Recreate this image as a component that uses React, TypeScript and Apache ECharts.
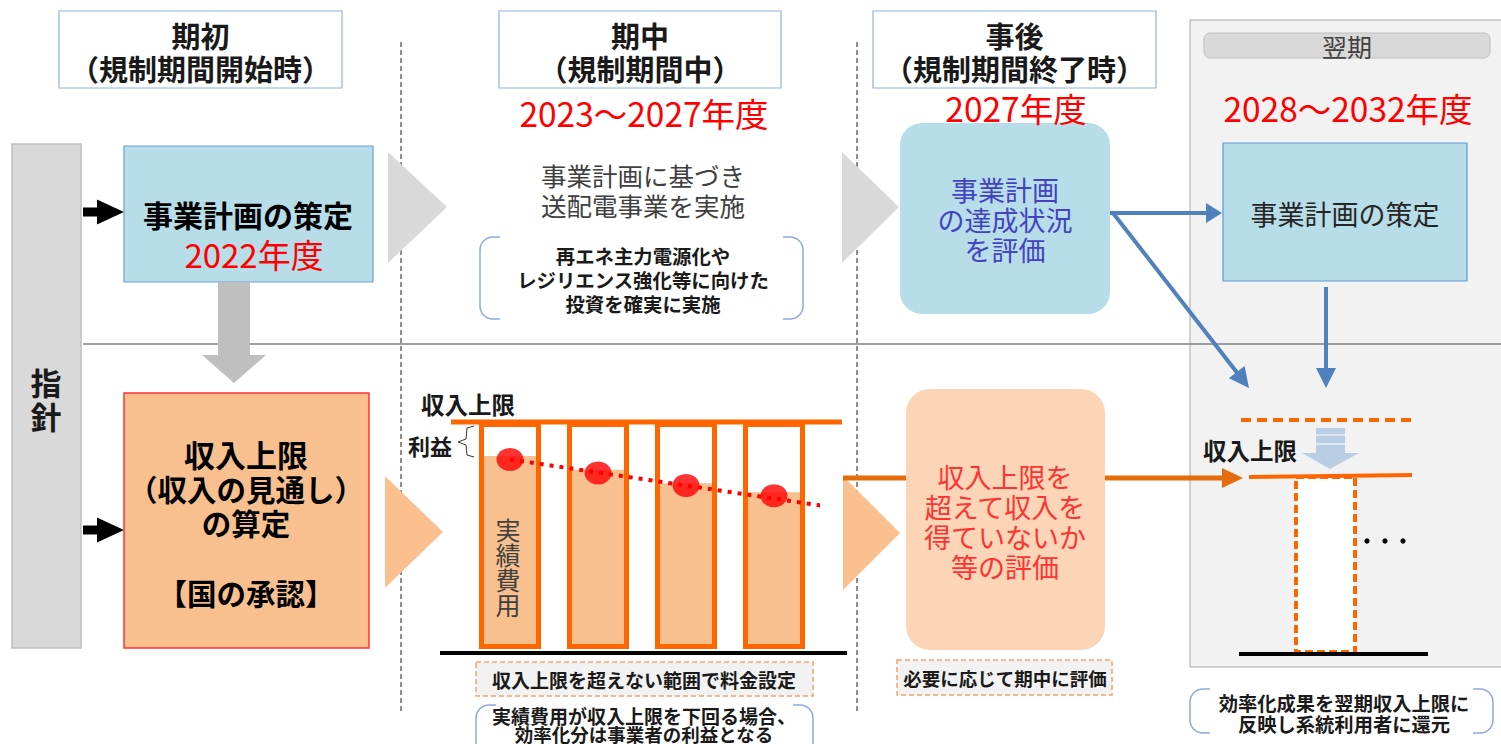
import React, { useEffect, useRef } from 'react';
import * as echarts from 'echarts';

const FONT = '"Noto Sans CJK JP", "Noto Sans", sans-serif';

// ---- chart data (middle panel: revenue cap vs. actual cost over the period) ----
const periods = ['1年目', '2年目', '3年目', '4年目'];
const revenueCap = [100, 100, 100, 100];
const actualCost = [85, 79, 73, 69];
const costDots = [83.5, 77.5, 72, 67.5];
const trendLine = [[0.5, 83.5], [4.07, 63]];

// ---- texts ----
const headerTitles = ['期初', '期中', '事後'];
const headerSubs = ['（規制期間開始時）', '（規制期間中）', '（規制期間終了時）'];
const yearLabels = ['2022年度', '2023～2027年度', '2027年度', '2028～2032年度'];
const guideChars = ['指', '針'];
const capBoxLines = ['収入上限', '（収入の見通し）', 'の算定', '【国の承認】'];
const midLines = ['事業計画に基づき', '送配電事業を実施'];
const investLines = ['再エネ主力電源化や', 'レジリエンス強化等に向けた', '投資を確実に実施'];
const costChars = ['実', '績', '費', '用'];
const evalLines = ['事業計画', 'の達成状況', 'を評価'];
const peachLines = ['収入上限を', '超えて収入を', '得ていないか', '等の評価'];
const noteLines = ['実績費用が収入上限を下回る場合、', '効率化分は事業者の利益となる'];
const returnLines = ['効率化成果を翌期収入上限に', '反映し系統利用者に還元'];

const RED = '#ff0000';
const ORANGE = '#ff6600';

function T(text: string, x: number, y: number, size: number, fill = '#1a1a1a', weight: any = 'normal', extra: any = {}) {
  return {
    type: 'text', x, y, z: 10,
    style: { text, fill, fontSize: size, fontWeight: weight, fontFamily: FONT, textAlign: 'center', textVerticalAlign: 'middle', ...extra },
  };
}
function R(x: number, y: number, w: number, h: number, style: any, r = 0, z = 0) {
  return { type: 'rect', z, shape: { x, y, width: w, height: h, r }, style };
}
function L(x1: number, y1: number, x2: number, y2: number, style: any, z = 0) {
  return { type: 'line', z, shape: { x1, y1, x2, y2 }, style };
}
function P(points: number[][], fill: string, z = 0) {
  return { type: 'polygon', z, shape: { points }, style: { fill } };
}
function arrow(x1: number, y1: number, x2: number, y2: number, color: string, lw: number, hl: number, hw: number) {
  const dx = x2 - x1, dy = y2 - y1, len = Math.hypot(dx, dy);
  const ux = dx / len, uy = dy / len, px = -uy, py = ux;
  const bx = x2 - ux * hl, by = y2 - uy * hl;
  return [
    L(x1, y1, bx + ux, by + uy, { stroke: color, lineWidth: lw }),
    P([[x2, y2], [bx + px * hw, by + py * hw], [bx - px * hw, by - py * hw]], color),
  ];
}
function blockArrow(x: number, yc: number) {
  return P([[x, yc - 4.5], [x + 14, yc - 4.5], [x + 14, yc - 12.5], [x + 41, yc], [x + 14, yc + 12.5], [x + 14, yc + 4.5], [x, yc + 4.5]], '#000');
}
function bracket(x: number, y: number, w: number, h: number) {
  return [
    R(x, y, w, h, { fill: 'none', stroke: '#8eaadb', lineWidth: 1.5 }, 13),
    R(x + 20, y - 3, w - 40, 6, { fill: '#fff' }),
    R(x + 20, y + h - 3, w - 40, 6, { fill: '#fff' }),
  ];
}

function buildGraphic() {
  const e: any[] = [];
  // next period panel
  e.push(R(1190, 20, 330, 647, { fill: '#f2f2f2', stroke: '#a6a6a6', lineWidth: 1 }));
  e.push(R(1204, 33, 286, 25, { fill: '#d9d9d9', stroke: '#bfbfbf', lineWidth: 1 }, 6));
  e.push(T('翌期', 1347, 46, 25, '#404040'));

  // header boxes
  const hb = [[59, 342], [499, 781], [873, 1156]];
  hb.forEach(([a, b], i) => {
    e.push(R(a, 11, b - a, 77, { fill: '#fff', stroke: '#8eb4e3', lineWidth: 1.2 }));
    e.push(T(headerTitles[i], (a + b) / 2, 35, 29, '#1a1a1a', 'bold'));
    e.push(T(headerSubs[i], (a + b) / 2, 68, 29, '#1a1a1a', 'bold'));
  });

  // dashed separators
  [401, 857].forEach((x) => e.push(L(x, 42, x, 712, { stroke: '#1a1a1a', lineWidth: 1, lineDash: [5, 3] })));
  // horizontal separator
  e.push(L(83, 344, 1501, 344, { stroke: '#7f7f7f', lineWidth: 1.5 }));

  // guideline bar
  e.push(R(12, 144, 69, 504, { fill: '#d9d9d9', stroke: '#bfbfbf', lineWidth: 1.5 }));
  e.push(T(guideChars[0], 46, 381, 31, '#1a1a1a', 'bold'));
  e.push(T(guideChars[1], 46, 415, 31, '#1a1a1a', 'bold'));
  e.push(blockArrow(83, 212));
  e.push(blockArrow(83, 530));

  // business plan box
  e.push(R(124, 146, 249, 136, { fill: '#b7dde8', stroke: '#6c9fd6', lineWidth: 1.2 }));
  e.push(T('事業計画の策定', 248, 214, 30, '#000', 'bold'));
  e.push(T(yearLabels[0], 254, 254, 33, RED));

  // gray down arrow
  e.push(P([[218, 282], [250, 282], [250, 355], [266, 355], [234, 383], [202, 355], [218, 355]], '#bfbfbf'));

  // revenue cap box
  e.push(R(124, 393, 245, 255, { fill: '#f9c08f', stroke: '#ff3333', lineWidth: 1.5 }));
  [453, 488, 522, 592].forEach((y, i) => e.push(T(capBoxLines[i], 246, y, i === 0 ? 31 : 29.5, '#000', 'bold')));

  // chevrons
  e.push(P([[388, 152], [447, 207], [388, 263]], '#d9d9d9'));
  e.push(P([[842, 152], [899, 207], [842, 263]], '#d9d9d9'));
  e.push(P([[385, 476], [443, 532], [385, 588]], '#fac090'));
  e.push(P([[843, 476], [900, 533], [843, 590]], '#fac090'));

  // middle texts
  e.push(T(yearLabels[1], 644, 112, 33.5, RED));
  e.push(T(midLines[0], 643, 174, 25.5, '#404040'));
  e.push(T(midLines[1], 643, 204, 25.5, '#404040'));
  e.push(...bracket(480, 237, 323, 82));
  [255, 279, 303].forEach((y, i) => e.push(T(investLines[i], 643, y, 19.4, '#1a1a1a', 'bold')));

  // bar region decorations
  e.push(T('収入上限', 468, 404, 23.5, '#1a1a1a', 'bold'));
  e.push(L(451, 422, 842, 422, { stroke: ORANGE, lineWidth: 5 }));
  e.push(L(440, 653, 847, 653, { stroke: '#000', lineWidth: 4 }));
  e.push(T('利益', 430, 445, 22, '#1a1a1a', 'bold'));
  e.push({ type: 'polyline', z: 10, shape: { points: [[474, 426], [467, 428], [466, 439], [458, 442], [466, 445], [467, 455], [474, 457]] }, style: { stroke: '#333', lineWidth: 1, fill: 'none' } });
  [529, 554, 579, 604].forEach((y, i) => e.push(T(costChars[i], 508, y, 25, '#404040')));

  e.push(R(476, 662, 337, 34, { fill: '#f2f2f2', stroke: '#f4a36c', lineWidth: 1.5, lineDash: [5, 3] }));
  e.push(T('収入上限を超えない範囲で料金設定', 644, 679, 19, '#1a1a1a', 'bold'));
  e.push(...bracket(476, 705, 337, 50));
  e.push(T(noteLines[0], 644, 715, 19, '#1a1a1a', 'bold'));
  e.push(T(noteLines[1], 644, 734, 18.5, '#1a1a1a', 'bold'));

  // orange arrow through evaluation box
  e.push(L(843, 478, 1224, 478, { stroke: '#e46c0a', lineWidth: 5 }));
  e.push(P([[1222, 468], [1243, 478], [1222, 488]], '#e46c0a'));

  // after: evaluation box
  e.push(T(yearLabels[2], 1016, 107, 33.5, RED));
  e.push(R(900, 123, 210, 191, { fill: '#b7dde8' }, 22));
  [189, 219, 249].forEach((y, i) => e.push(T(evalLines[i], 1005, y, 27, '#4343c2')));

  e.push(R(906, 389, 199, 261, { fill: '#fbd5b5' }, 24));
  [476, 506, 536, 566].forEach((y, i) => e.push(T(peachLines[i], 1005, y, 27, '#ff3333')));
  e.push(R(897, 660, 215, 35, { fill: '#f2f2f2', stroke: '#f4a36c', lineWidth: 1.5, lineDash: [5, 3] }));
  e.push(T('必要に応じて期中に評価', 1005, 678, 18.5, '#1a1a1a', 'bold'));

  // next period
  e.push(T(yearLabels[3], 1348, 107, 33.5, RED));
  e.push(R(1223, 143, 244, 138, { fill: '#b7dde8', stroke: '#5b9bd5', lineWidth: 1.2 }));
  e.push(T('事業計画の策定', 1345, 213, 27, '#262626'));

  e.push(...arrow(1110, 213, 1222, 213, '#4f81bd', 4, 16, 10));
  e.push(...arrow(1113, 213, 1249, 388, '#4f81bd', 4, 20, 10));
  e.push(...arrow(1326, 287, 1326, 388, '#4f81bd', 4, 20, 10));

  e.push(L(1241, 420, 1411, 420, { stroke: ORANGE, lineWidth: 4, lineDash: [10, 6] }));
  e.push(P([[1316, 428], [1345, 428], [1345, 453], [1359, 453], [1330, 469], [1302, 453], [1316, 453]], '#b9cde5'));
  e.push(L(1316, 435, 1345, 435, { stroke: '#fff', lineWidth: 1 }));
  e.push(L(1316, 444, 1345, 444, { stroke: '#fff', lineWidth: 1 }));
  e.push(T('収入上限', 1250, 450, 23.5, '#1a1a1a', 'bold'));
  e.push(R(1296, 477, 59, 175, { fill: '#fff', stroke: ORANGE, lineWidth: 4, lineDash: [8, 4] }));
  e.push(L(1249, 477, 1412, 475, { stroke: ORANGE, lineWidth: 4 }));
  e.push(L(1239, 654, 1428, 654, { stroke: '#000', lineWidth: 4 }));
  [1367, 1385, 1403].forEach((x) => e.push({ type: 'circle', shape: { cx: x, cy: 541, r: 2.6 }, style: { fill: '#000' } }));

  e.push(...bracket(1190, 689, 303, 44));
  e.push(T(returnLines[0], 1344, 703, 19.3, '#1a1a1a', 'bold'));
  e.push(T(returnLines[1], 1344, 724, 19.3, '#1a1a1a', 'bold'));
  return e;
}

function buildOption(): any {
  return {
    animation: false,
    backgroundColor: '#ffffff',
    grid: { left: 466, top: 422, width: 352, height: 227 },
    xAxis: [
      { type: 'category', data: periods, show: false },
      { type: 'value', min: 0, max: 4, show: false },
    ],
    yAxis: { type: 'value', min: 0, max: 100, show: false },
    series: [
      { name: '実績費用', type: 'bar', data: actualCost, barWidth: 62, z: 2, itemStyle: { color: '#f9c08f' } },
      {
        name: '収入上限', type: 'bar', data: revenueCap, barWidth: 62, barGap: '-100%', z: 3,
        itemStyle: { color: 'rgba(255,255,255,0)', borderColor: ORANGE, borderWidth: 5 },
      },
      {
        name: 'trend', type: 'line', xAxisIndex: 1, data: trendLine, symbol: 'none', z: 4,
        lineStyle: { color: RED, width: 4, type: [4, 6] },
      },
      {
        name: 'dots', type: 'scatter', data: costDots, symbol: 'circle', symbolSize: [27, 23], z: 5,
        itemStyle: { color: RED },
      },
    ],
    graphic: { elements: buildGraphic() },
  };
}

export default function App() {
  const ref = useRef<HTMLDivElement>(null);
  useEffect(() => {
    const chart = echarts.init(ref.current as HTMLDivElement, null, { renderer: 'svg' });
    chart.setOption(buildOption());
    return () => chart.dispose();
  }, []);
  return (
    <div
      ref={ref}
      style={{ position: 'absolute', left: 0, top: 0, width: 1501, height: 744, background: '#fff' }}
    />
  );
}
